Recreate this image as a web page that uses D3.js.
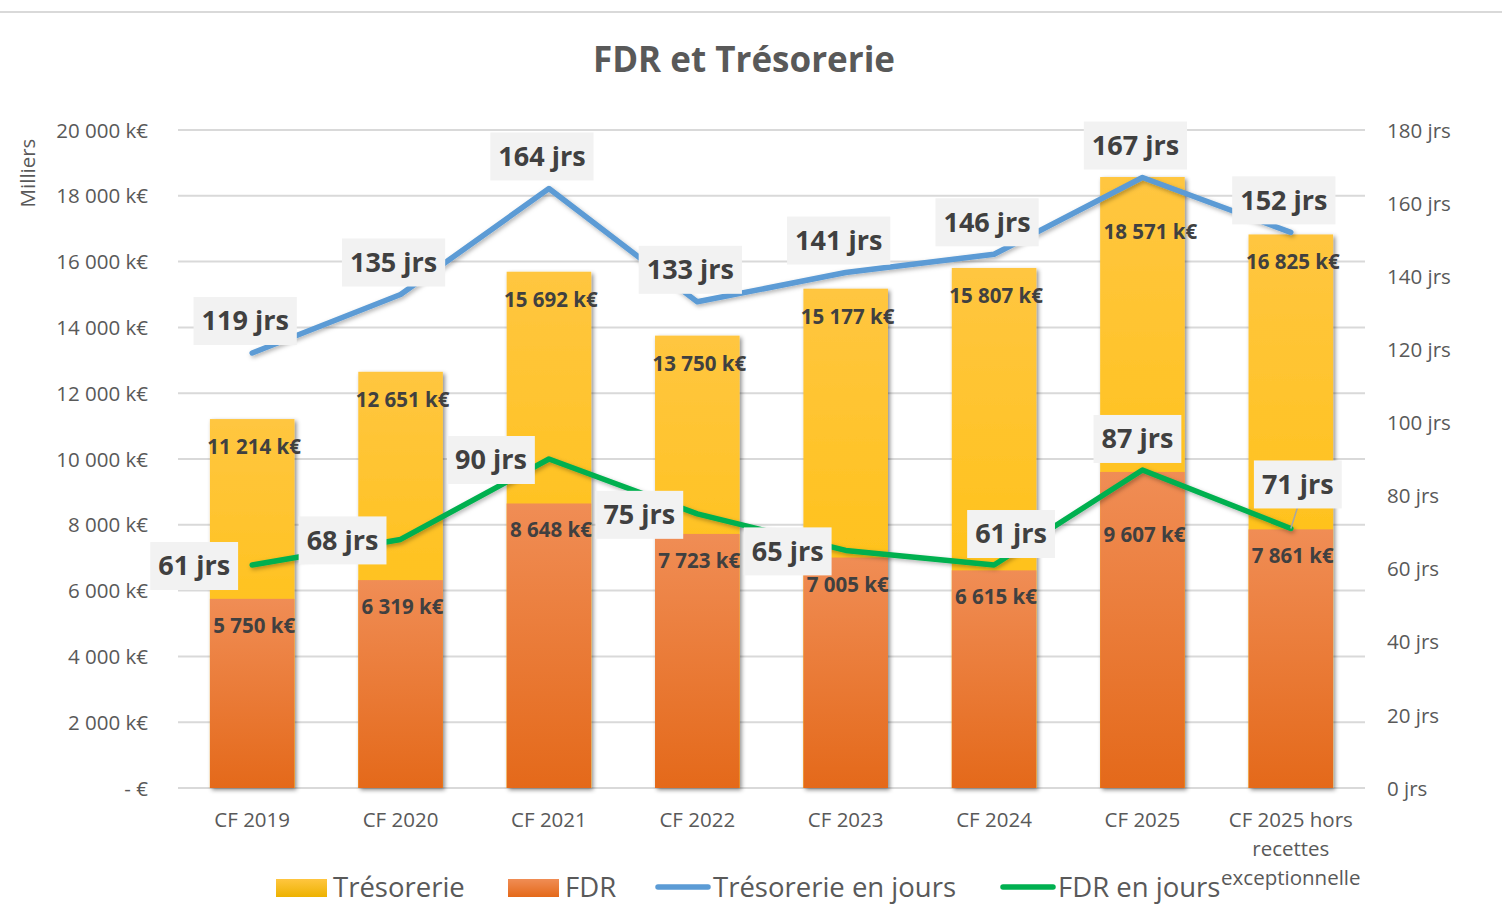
<!DOCTYPE html>
<html>
<head>
<meta charset="utf-8">
<script src="https://cdn.jsdelivr.net/npm/d3@7"></script>
<style>
  html, body { margin: 0; padding: 0; background: #fff; }
  svg text { font-family: "Open Sans", sans-serif; }
</style>
</head>
<body>
<div id="chart"></div>
<script>
// data
const categories = ["CF 2019", "CF 2020", "CF 2021", "CF 2022", "CF 2023", "CF 2024", "CF 2025", "CF 2025 hors recettes exceptionnelle"];
const tresorerie = [11214, 12651, 15692, 13750, 15177, 15807, 18571, 16825];
const fdr = [5750, 6319, 8648, 7723, 7005, 6615, 9607, 7861];
const tresoJours = [119, 135, 164, 133, 141, 146, 167, 152];
const fdrJours = [61, 68, 90, 75, 65, 61, 87, 71];
const leftTicks = [0, 2000, 4000, 6000, 8000, 10000, 12000, 14000, 16000, 18000, 20000];
const rightTicks = [0, 20, 40, 60, 80, 100, 120, 140, 160, 180];

// where the day labels sit relative to their point
const fdrLabelPlace = ["left", "left", "left", "left", "left", "above", "above", "aboveright"];

const W = 1502, H = 922;
const m = { left: 178, right: 137, top: 130, bottom: 134 };
const axisFont = 20.5;

const svg = d3.select("#chart").append("svg")
    .attr("width", W).attr("height", H);

const defs = svg.append("defs");
function grad(id, c1, c2) {
  const g = defs.append("linearGradient").attr("id", id).attr("x1", 0).attr("y1", 0).attr("x2", 0).attr("y2", 1);
  g.append("stop").attr("offset", "0%").attr("stop-color", c1);
  g.append("stop").attr("offset", "100%").attr("stop-color", c2);
}
grad("gTreso", "#FFC640", "#FFBF00");
grad("gFdr", "#F08D55", "#E4691A");
grad("gTresoLeg", "#FFC640", "#EDB200");
grad("gFdrLeg", "#F08D55", "#E4691A");

const shadow = defs.append("filter").attr("id", "shadow")
    .attr("x", "-20%").attr("y", "-20%").attr("width", "140%").attr("height", "140%");
shadow.append("feDropShadow").attr("dx", 2).attr("dy", 2).attr("stdDeviation", 2)
    .attr("flood-color", "#000").attr("flood-opacity", 0.45);
const lshadow = defs.append("filter").attr("id", "lshadow")
    .attr("x", "-10%").attr("y", "-10%").attr("width", "120%").attr("height", "120%");
lshadow.append("feDropShadow").attr("dx", 1.5).attr("dy", 2).attr("stdDeviation", 2)
    .attr("flood-color", "#000").attr("flood-opacity", 0.3);

// top border
svg.append("line").attr("x1", 0).attr("x2", W).attr("y1", 12).attr("y2", 12)
    .attr("stroke", "#d9d9d9").attr("stroke-width", 2);

const x = d3.scaleBand().domain(categories).range([m.left, W - m.right]).paddingInner(0.43).paddingOuter(0.215);
const y = d3.scaleLinear().domain([0, 20000]).range([H - m.bottom, m.top]);
const y2 = d3.scaleLinear().domain([0, 180]).range([H - m.bottom, m.top]);
const cx = d => x(d) + x.bandwidth() / 2;

// title
svg.append("text").attr("x", 744).attr("y", 72).attr("text-anchor", "middle")
    .attr("font-size", 35).attr("font-weight", "bold").attr("fill", "#595959")
    .text("FDR et Trésorerie");

// gridlines
svg.append("g").selectAll("line").data(leftTicks).join("line")
    .attr("x1", m.left).attr("x2", W - m.right)
    .attr("y1", d => y(d)).attr("y2", d => y(d))
    .attr("stroke", "#d9d9d9").attr("stroke-width", 2);

// left axis
const fmtK = d => d === 0 ? "- €" : d3.format(",")(d).replace(/,/g, " ") + " k€";
const gl = svg.append("g").attr("transform", `translate(${m.left - 30},0)`)
    .call(d3.axisLeft(y).tickValues(leftTicks).tickFormat(fmtK).tickSize(0));
gl.select(".domain").remove();
gl.selectAll("text").attr("font-size", axisFont).attr("fill", "#595959").attr("x", 0).attr("dy", "0.35em");

// right axis
const gr = svg.append("g").attr("transform", `translate(${W - m.right + 22},0)`)
    .call(d3.axisRight(y2).tickValues(rightTicks).tickFormat(d => d + " jrs").tickSize(0));
gr.select(".domain").remove();
gr.selectAll("text").attr("font-size", axisFont).attr("fill", "#595959").attr("x", 0).attr("dy", "0.35em");

svg.append("text").attr("transform", "translate(35,173) rotate(-90)")
    .attr("text-anchor", "middle").attr("font-size", axisFont).attr("fill", "#595959").text("Milliers");

// x labels
const gx = svg.append("g");
categories.forEach(c => {
  const lines = c === categories[7] ? ["CF 2025 hors", "recettes", "exceptionnelle"] : [c];
  const t = gx.append("text").attr("x", cx(c)).attr("y", 827).attr("text-anchor", "middle")
      .attr("font-size", axisFont).attr("fill", "#595959");
  lines.forEach((l, i) => t.append("tspan").attr("x", cx(c)).attr("dy", i ? 29 : 0).text(l));
});

// bars
const bars = svg.append("g");
bars.selectAll("rect.treso").data(categories).join("rect").attr("class", "treso")
    .attr("x", d => x(d)).attr("width", x.bandwidth())
    .attr("y", (d, i) => y(tresorerie[i])).attr("height", (d, i) => y(0) - y(tresorerie[i]))
    .attr("fill", "url(#gTreso)").attr("filter", "url(#shadow)");
bars.selectAll("rect.fdr").data(categories).join("rect").attr("class", "fdr")
    .attr("x", d => x(d)).attr("width", x.bandwidth())
    .attr("y", (d, i) => y(fdr[i])).attr("height", (d, i) => y(0) - y(fdr[i]))
    .attr("fill", "url(#gFdr)");

// bar value labels
const valLab = svg.append("g").attr("font-size", 20.5).attr("font-weight", "bold").attr("fill", "#404040").attr("text-anchor", "middle");
categories.forEach((c, i) => {
  const push = i === 6 ? 27 : 0;
  valLab.append("text").attr("x", cx(c) + (i === 6 ? 8 : 2)).attr("y", y(tresorerie[i]) + 35 + push).text(fmtK(tresorerie[i]));
  const extra = i === 6 ? 36 : 0;
  valLab.append("text").attr("x", cx(c) + 2).attr("y", y(fdr[i]) + 34 + extra).text(fmtK(fdr[i]));
});

// lines
const line = yy => d3.line().x((d, i) => cx(categories[i])).y(d => yy(d));
svg.append("path").datum(tresoJours).attr("d", line(y2))
    .attr("fill", "none").attr("stroke", "#5B9BD5").attr("stroke-width", 5.5)
    .attr("stroke-linejoin", "round").attr("stroke-linecap", "round").attr("filter", "url(#lshadow)");
svg.append("path").datum(fdrJours).attr("d", line(y2))
    .attr("fill", "none").attr("stroke", "#00B050").attr("stroke-width", 5.5)
    .attr("stroke-linejoin", "round").attr("stroke-linecap", "round").attr("filter", "url(#lshadow)");

// day labels with grey boxes
const dayLab = svg.append("g");
function dayLabel(px, py, txt, leader) {
  const g = dayLab.append("g");
  if (leader) {
    g.append("line").attr("x1", leader[0]).attr("y1", leader[1]).attr("x2", px).attr("y2", py + 22)
        .attr("stroke", "#a6a6a6").attr("stroke-width", 1.5);
  }
  const t = g.append("text").attr("x", px).attr("y", py).attr("text-anchor", "middle").attr("dy", "0.35em")
      .attr("font-size", 27).attr("font-weight", "bold").attr("fill", "#404040").text(txt);
  const bb = t.node().getBBox();
  g.insert("rect", "text").attr("x", bb.x - 8).attr("y", py - 24).attr("width", bb.width + 16).attr("height", 48)
      .attr("fill", "#F2F2F2");
}
categories.forEach((c, i) => {
  dayLabel(cx(c) - 7, y2(tresoJours[i]) - 32, tresoJours[i] + " jrs");
});
categories.forEach((c, i) => {
  const px = cx(c), py = y2(fdrJours[i]);
  const p = fdrLabelPlace[i];
  if (p === "left") dayLabel(px - 58, py + 1, fdrJours[i] + " jrs");
  else if (p === "above") dayLabel(px + (i === 5 ? 17 : -5), py - 31, fdrJours[i] + " jrs");
  else dayLabel(px + 7, py - 44, fdrJours[i] + " jrs", [px, py]);
});

// legend
const leg = svg.append("g").attr("font-size", 27.5).attr("fill", "#595959");
leg.append("rect").attr("x", 276).attr("y", 879).attr("width", 51).attr("height", 18).attr("fill", "url(#gTresoLeg)");
leg.append("text").attr("x", 333).attr("y", 887).attr("dy", "0.35em").text("Trésorerie");
leg.append("rect").attr("x", 508).attr("y", 879).attr("width", 51).attr("height", 18).attr("fill", "url(#gFdrLeg)");
leg.append("text").attr("x", 565).attr("y", 887).attr("dy", "0.35em").text("FDR");
leg.append("line").attr("x1", 658).attr("x2", 708).attr("y1", 887).attr("y2", 887)
    .attr("stroke", "#5B9BD5").attr("stroke-width", 5.5).attr("stroke-linecap", "round");
leg.append("text").attr("x", 713).attr("y", 887).attr("dy", "0.35em").text("Trésorerie en jours");
leg.append("line").attr("x1", 1003).attr("x2", 1053).attr("y1", 887).attr("y2", 887)
    .attr("stroke", "#00B050").attr("stroke-width", 5.5).attr("stroke-linecap", "round");
leg.append("text").attr("x", 1058).attr("y", 887).attr("dy", "0.35em").text("FDR en jours");
</script>
</body>
</html>
